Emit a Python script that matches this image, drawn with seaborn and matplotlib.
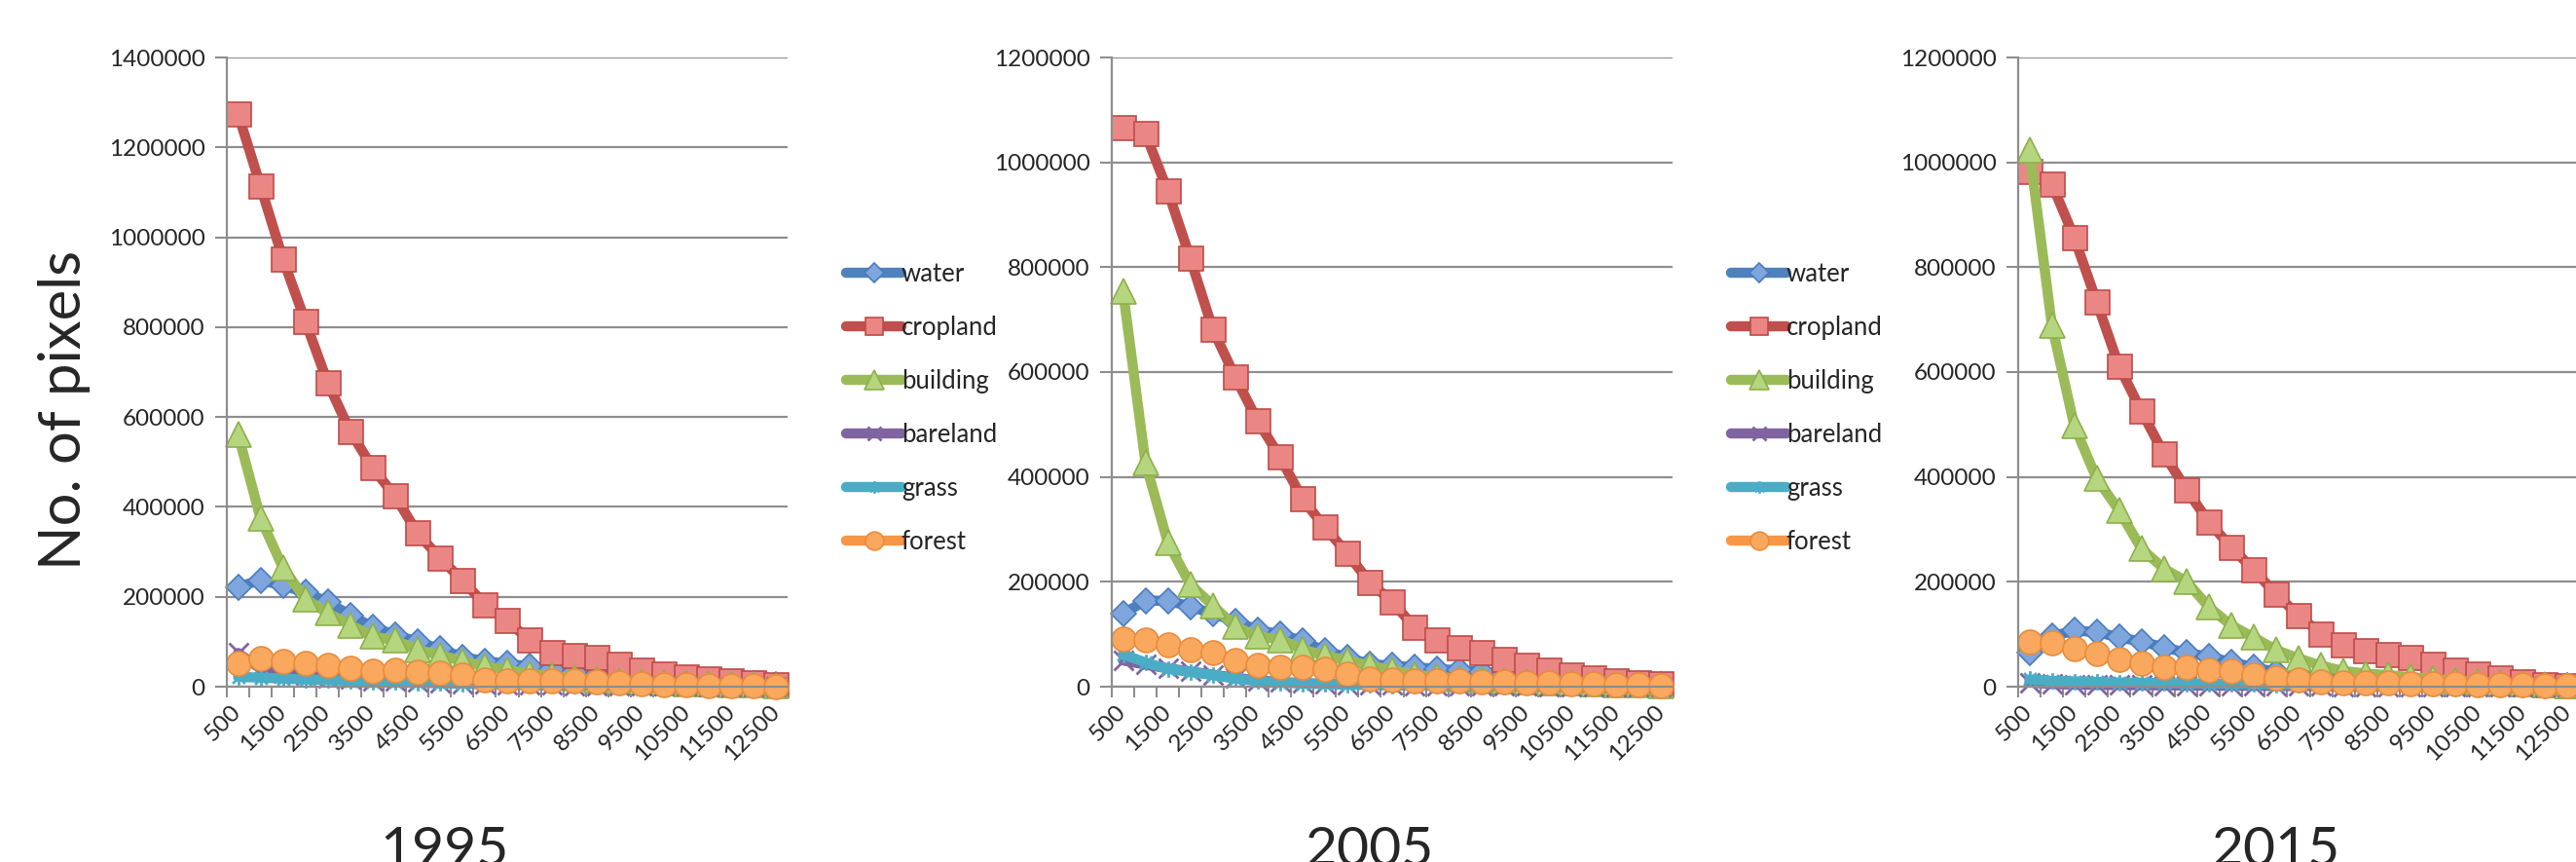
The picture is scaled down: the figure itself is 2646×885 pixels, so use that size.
import numpy as np
import pandas as pd
import matplotlib
matplotlib.use("Agg")
import matplotlib.pyplot as plt
from matplotlib.lines import Line2D
from matplotlib.path import Path
import seaborn as sns

# distance bins (x categories)
bins = [500, 1000, 1500, 2000, 2500, 3000, 3500, 4000, 4500, 5000, 5500, 6000, 6500,
        7000, 7500, 8000, 8500, 9000, 9500, 10000, 10500, 11000, 11500, 12000, 12500]
classes = ["water", "cropland", "building", "bareland", "grass", "forest"]
years = ["1995", "2005", "2015"]
y_max = [1400000, 1200000, 1200000]

# 1995
water_1995 = [222000, 237000, 225000, 210000, 188000, 159000, 133000, 115000, 100000, 84000, 66000, 57000, 51000,
              45000, 39000, 33000, 27000, 23000, 19500, 16000, 13500, 11000, 8500, 6000, 4000]
crop_1995 = [1275000, 1114000, 952000, 813000, 676000, 568000, 487000, 424000, 342000, 286000, 237000, 183000, 147000,
             103000, 76000, 70000, 64000, 49000, 37000, 29000, 22000, 17000, 12000, 8500, 5000]
build_1995 = [562000, 375000, 265000, 195000, 164000, 137000, 112000, 103000, 82000, 70000, 57000, 45000, 37000,
              29000, 24000, 19500, 15000, 12000, 10000, 8500, 7000, 6000, 5000, 3500, 2500]
bare_1995 = [75000, 40000, 30000, 25000, 20000, 17000, 14000, 12000, 10000, 8000, 7000, 6000, 5000,
             4000, 3500, 3000, 2500, 2000, 1700, 1400, 1100, 900, 700, 500, 300]
grass_1995 = [22000, 20000, 18000, 16000, 15000, 13000, 11000, 10000, 9000, 8000, 7000, 6000, 5000,
              4000, 3500, 3000, 2500, 2000, 1500, 1200, 1000, 800, 600, 400, 200]
forest_1995 = [51000, 63000, 57000, 53000, 47000, 41000, 35000, 36000, 33000, 30000, 27000, 15000, 12000,
               12000, 14000, 12000, 10000, 9000, 7000, 5000, 4000, 3000, 2000, 2000, 1000]

# 2005
water_2005 = [139000, 164000, 164000, 153000, 139000, 125000, 108000, 100000, 87000, 68000, 56000, 43000, 40000,
              37000, 34000, 31000, 28000, 25000, 21000, 16000, 12500, 10000, 8000, 6000, 4000]
crop_2005 = [1067000, 1055000, 945000, 817000, 682000, 591000, 507000, 438000, 358000, 304000, 254000, 199000, 162000,
             113000, 89000, 75000, 65000, 52000, 40000, 31000, 23000, 17000, 11500, 8000, 5000]
build_2005 = [755000, 427000, 275000, 195000, 155000, 115000, 96000, 90000, 71000, 59000, 50000, 40000, 31000,
              23000, 19000, 15000, 12500, 10500, 9000, 8000, 7000, 5500, 4500, 3000, 2000]
bare_2005 = [50000, 42000, 35000, 29000, 23000, 17000, 12000, 9000, 7000, 5500, 4500, 3500, 3000,
             2500, 2000, 1700, 1400, 1200, 1000, 800, 600, 500, 400, 300, 200]
grass_2005 = [62000, 46000, 34000, 28000, 22000, 15500, 10500, 8000, 6000, 5000, 4000, 3200, 2600,
              2100, 1700, 1400, 1100, 900, 700, 600, 500, 400, 300, 200, 100]
forest_2005 = [91000, 90000, 80000, 71000, 65000, 50000, 40000, 37000, 37000, 34000, 25000, 15500, 12500,
               12000, 12000, 11000, 10000, 9000, 8000, 7000, 6000, 5000, 4000, 3000, 2000]

# 2015
water_2015 = [65000, 96000, 107000, 104000, 94000, 86000, 75000, 65000, 57000, 47000, 37000, 28000, 22000,
              18000, 15000, 12500, 10500, 9000, 7500, 6000, 5000, 4000, 3000, 2000, 1000]
crop_2015 = [982000, 959000, 857000, 734000, 611000, 525000, 444000, 376000, 314000, 266000, 223000, 176000, 136000,
             101000, 79000, 68000, 62000, 55500, 43000, 31000, 23500, 16000, 9000, 4000, 2000]
build_2015 = [1024000, 690000, 498000, 397000, 336000, 263000, 225000, 201000, 152000, 117000, 94000, 70000, 54000,
              40000, 30000, 25000, 22000, 18000, 15000, 12000, 9000, 7000, 5000, 3000, 2000]
bare_2015 = [8000, 5000, 4000, 3500, 3000, 2800, 2500, 2200, 2000, 1800, 1600, 1400, 1200,
             1000, 900, 800, 700, 600, 500, 400, 300, 250, 200, 150, 100]
grass_2015 = [14000, 11000, 10000, 9000, 8000, 7500, 7000, 6500, 6000, 5500, 5000, 4500, 4000,
              3500, 3000, 2500, 2200, 1900, 1600, 1300, 1000, 800, 600, 400, 200]
forest_2015 = [86000, 84000, 73000, 63000, 52000, 44000, 37000, 37000, 31000, 29000, 23000, 16000, 12500,
               8500, 8000, 7500, 7000, 6500, 6000, 5000, 4500, 4000, 3000, 2500, 2000]

series = {
    "1995": [water_1995, crop_1995, build_1995, bare_1995, grass_1995, forest_1995],
    "2005": [water_2005, crop_2005, build_2005, bare_2005, grass_2005, forest_2005],
    "2015": [water_2015, crop_2015, build_2015, bare_2015, grass_2015, forest_2015],
}

# excel-like "star" marker: an X with a vertical stroke
star = Path([(-1, -1), (1, 1), (-1, 1), (1, -1), (0, -1.3), (0, 1.3)],
            [Path.MOVETO, Path.LINETO, Path.MOVETO, Path.LINETO, Path.MOVETO, Path.LINETO])

styles = {
    "water":    dict(color="#4F81BD", marker="D", mfc="#7FA6DC", mec="#4A7BBE", ms=13),
    "cropland": dict(color="#C0504D", marker="s", mfc="#EA8785", mec="#BE4B48", ms=18),
    "building": dict(color="#9BBB59", marker="^", mfc="#B5D67E", mec="#8DB04C", ms=19),
    "bareland": dict(color="#8064A2", marker="x", mfc="#8064A2", mec="#8064A2", ms=14),
    "grass":    dict(color="#4BACC6", marker=star, mfc="#4BACC6", mec="#4BACC6", ms=12),
    "forest":   dict(color="#F79646", marker="o", mfc="#F9A85E", mec="#E88C3F", ms=18),
}

sns.set_theme(style="white")
plt.rcParams["font.family"] = ["Lato", "DejaVu Sans"]

W, H = 2646, 885
fig = plt.figure(figsize=(W / 100, H / 100), dpi=100)

lefts = [233, 1142, 2073]
ax_w, top_px, bot_px = 576, 59, 705
grid_col = "#8E8E8E"
year_cx = [457, 1407, 2337]
lw = 7.5

x = np.arange(len(bins))
for k, yr in enumerate(years):
    ax = fig.add_axes([lefts[k] / W, 1 - bot_px / H, ax_w / W, (bot_px - top_px) / H])
    for name, vals in zip(classes, series[yr]):
        st = styles[name]
        sns.lineplot(x=x, y=vals, ax=ax, color=st["color"], lw=lw, marker=st["marker"],
                     markersize=st["ms"], markerfacecolor=st["mfc"], markeredgecolor=st["mec"],
                     markeredgewidth=2 if name in ("bareland", "grass") else 1.2,
                     clip_on=False, legend=False, errorbar=None)
    ax.set_xlim(-0.5, len(bins) - 0.5)
    ax.set_ylim(0, y_max[k])
    ax.set_yticks(np.arange(0, y_max[k] + 1, 200000))
    ax.set_yticklabels([f"{v:d}" for v in np.arange(0, y_max[k] + 1, 200000)], fontsize=17.5)
    ax.set_xticks(x[::2])
    ax.set_xticklabels([str(b) for b in bins[::2]], fontsize=17.5, rotation=45,
                       ha="right", va="center", rotation_mode="anchor")
    ax.set_xticks(np.arange(-0.5, len(bins), 1), minor=True)
    ax.tick_params(axis="x", which="major", length=0, pad=16)
    ax.tick_params(axis="x", which="minor", length=8, width=1.5, color=grid_col, direction="out", bottom=True)
    ax.tick_params(axis="y", length=9, width=1.5, color=grid_col, direction="out", left=True, pad=7)
    ax.grid(axis="y", color=grid_col, lw=1.6)
    ax.set_axisbelow(True)
    for s in ("top", "right"):
        ax.spines[s].set_visible(False)
    for s in ("left", "bottom"):
        ax.spines[s].set_color(grid_col)
        ax.spines[s].set_linewidth(1.6)
    ax.set_xlabel("")
    ax.set_ylabel("")

    handles = [Line2D([], [], color=styles[c]["color"], lw=lw, marker=styles[c]["marker"],
                      markersize=styles[c]["ms"] * 0.75, markerfacecolor=styles[c]["mfc"],
                      markeredgecolor=styles[c]["mec"], solid_capstyle="round",
                      markeredgewidth=2 if c in ("bareland", "grass") else 1.2) for c in classes]
    fig.legend(handles, classes, loc="center left", fontsize=18.5, frameon=False,
               bbox_to_anchor=((lefts[k] + ax_w + 50) / W, 1 - 419 / H),
               handlelength=2.2, handletextpad=0.0, labelspacing=1.16, borderaxespad=0)

    fig.text(year_cx[k] / W, 1 - 889 / H, yr, fontsize=41, ha="center", va="baseline")

fig.text(66 / W, 1 - 421 / H, "No. of pixels", fontsize=43, rotation=90, ha="center", va="center")

fig.savefig("out.png", dpi=100, facecolor="white")
